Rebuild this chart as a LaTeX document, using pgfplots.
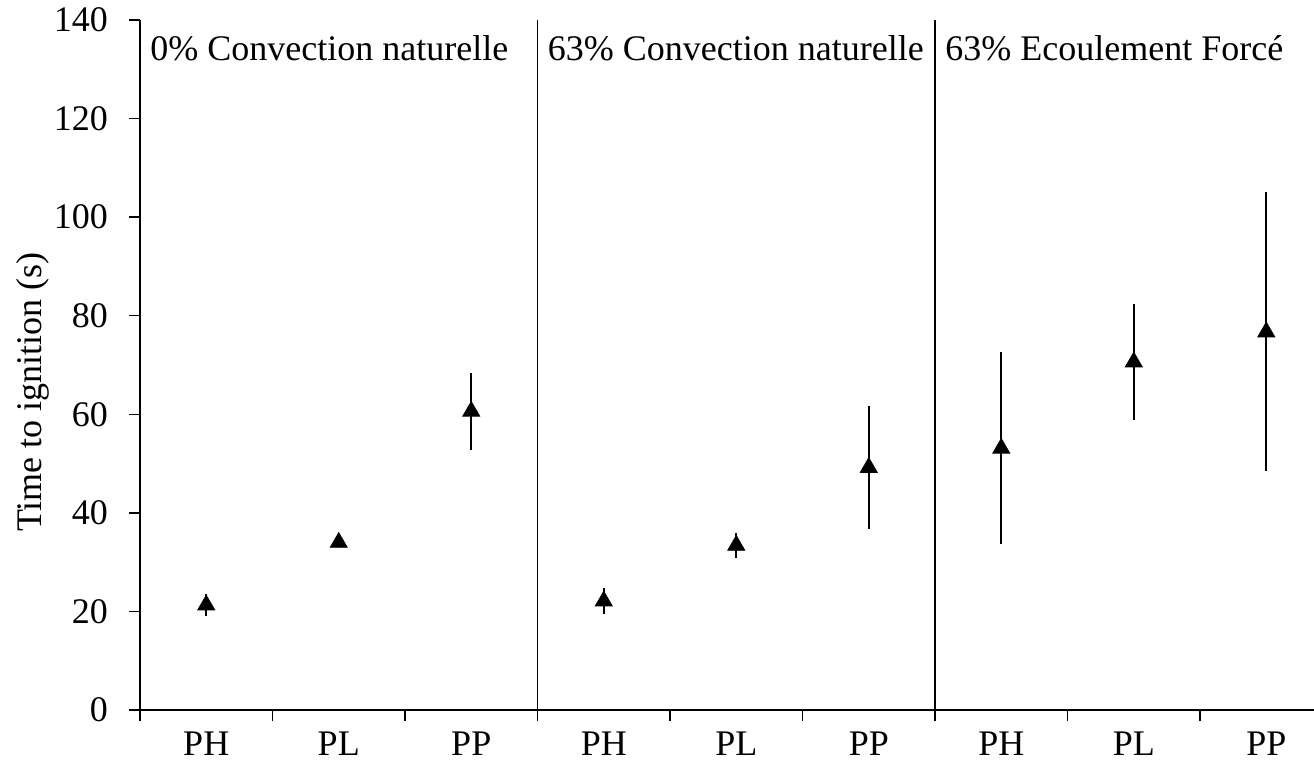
\documentclass[border=0pt]{standalone}
\usepackage{fontspec}
\setmainfont{Liberation Serif}
\usepackage{pgfplots}
\pgfplotsset{compat=1.18}
\begin{document}
\begin{tikzpicture}
\begin{axis}[
  scale only axis, width=587pt, height=345pt,
  xmin=-0.5, xmax=8.36, ymin=0, ymax=140,
  axis lines=left, axis line style={-, line width=0.75pt},
  clip=false,
  font=\fontsize{18}{21.5}\selectfont,
  tick label style={font=\fontsize{18}{21.5}\selectfont},
  /pgf/number format/assume math mode=true,
  ytick={0,20,...,140},
  xtick={-0.5,0.5,...,7.5}, xticklabels={},
  extra x ticks={0,1,...,8},
  extra x tick labels={PH,PL,PP,PH,PL,PP,PH,PL,PP},
  extra x tick style={major tick length=0pt, xticklabel style={inner sep=0.5pt, yshift=-10.4pt}},
  tick align=outside, major tick length=5.5pt,
  tick style={line width=0.75pt, black},
  yticklabel style={xshift=-7pt},
  ylabel={Time to ignition (s)},
  ylabel style={at={(axis description cs:-0.0911,0.461)}, anchor=center, font=\fontsize{18}{21.5}\selectfont},
]
\coordinate (o) at (rel axis cs:0,0);
\addplot[only marks, mark=triangle*, mark size=4.9pt, black,
  error bars/.cd, y dir=both, y explicit, error mark=none,
  error bar style={line width=1pt, black}]
  table[x=x, y=y, y error=e] {
x y e
0 21.3 2.2
1 34.0 0.6
2 60.6 7.8
3 22.1 2.7
4 33.4 2.6
5 49.2 12.5
6 53.1 19.5
7 70.6 11.7
8 76.7 28.3
};
\draw[line width=0.75pt] (axis cs:2.5,0) -- (axis cs:2.5,140);
\draw[line width=0.75pt] (axis cs:5.5,0) -- (axis cs:5.5,140);
\node[anchor=base west, inner sep=0pt, xshift=5pt] at (axis cs:-0.5,131.7) {0\% Convection naturelle};
\node[anchor=base west, inner sep=0pt, xshift=5pt] at (axis cs:2.5,131.7) {63\% Convection naturelle};
\node[anchor=base west, inner sep=0pt, xshift=5pt] at (axis cs:5.5,131.7) {63\% Ecoulement Forcé};
\end{axis}
\pgfresetboundingbox
\path[use as bounding box] (o) ++(-70pt,-26pt) rectangle ++(657pt,381pt);
\end{tikzpicture}
\end{document}
